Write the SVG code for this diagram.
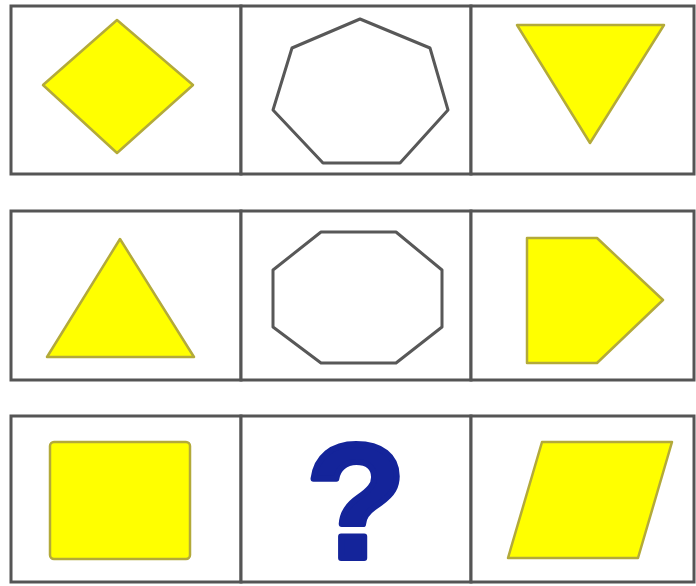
<svg xmlns="http://www.w3.org/2000/svg" width="696" height="586" viewBox="0 0 696 586">
<style>
.cell{fill:#ffffff;stroke:#555555;stroke-width:3}
.y{fill:#ffff00;stroke:#b3aa3a;stroke-width:2.5;stroke-linejoin:round}
.w{fill:#ffffff;stroke:#585858;stroke-width:3;stroke-linejoin:round}
</style>
<rect width="696" height="586" fill="#ffffff"/>
<g id="row1">
<rect class="cell" x="11" y="6" width="230" height="168"/>
<rect class="cell" x="241" y="6" width="230" height="168"/>
<rect class="cell" x="471" y="6" width="223" height="168"/>
</g>
<g id="row2">
<rect class="cell" x="11" y="211" width="230" height="169"/>
<rect class="cell" x="241" y="211" width="230" height="169"/>
<rect class="cell" x="471" y="211" width="223" height="169"/>
</g>
<g id="row3">
<rect class="cell" x="11" y="416" width="230" height="166"/>
<rect class="cell" x="241" y="416" width="230" height="166"/>
<rect class="cell" x="471" y="416" width="223" height="166"/>
</g>
<g id="diamond"><polygon class="y" points="117,20 193,85 117,153 43,85"/></g>
<g id="heptagon"><polygon class="w" points="360,19 430,48 448,110 400,163 323,163 273,110 292,48"/></g>
<g id="inv-triangle"><polygon class="y" points="517,25 664,25 590,143"/></g>
<g id="triangle"><polygon class="y" points="120,239 194,357 47,357"/></g>
<g id="octagon"><polygon class="w" points="321,232 396,232 442,270 442,327 396,363 321,363 273,327 273,270"/></g>
<g id="pentagon"><polygon class="y" points="527,238 597,238 663,300 597,363 527,363"/></g>
<g id="square"><rect class="y" x="50" y="442" width="140" height="117" rx="4"/></g>
<g id="question"><text x="356" y="558" text-anchor="middle" font-family="Liberation Sans, Arial, sans-serif" font-weight="bold" font-size="164" fill="#14249a" stroke="#14249a" stroke-width="6" stroke-linejoin="round">?</text></g>
<g id="parallelogram"><polygon class="y" points="542,442 672,442 638,558 508,558"/></g>
</svg>
